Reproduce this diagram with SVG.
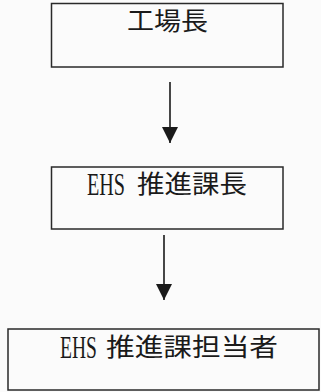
<svg xmlns="http://www.w3.org/2000/svg" width="321" height="392" viewBox="0 0 321 392">
<style>
.box{fill:none;stroke:#2a2a2a;stroke-width:1.5}
.jp{font-family:"Noto Sans CJK JP","Liberation Serif",sans-serif;font-size:25px;fill:#1a1a1a}
.en{font-family:"Liberation Serif",serif;font-size:31px;fill:#1a1a1a}
.conn{stroke:#1a1a1a;stroke-width:1.6;fill:none}
</style>
<defs>
<marker id="ah" markerWidth="16" markerHeight="16" viewBox="0 0 16 16" refX="16" refY="8" orient="auto" markerUnits="userSpaceOnUse">
<path d="M0,0 L16,8 L0,16 Z" fill="#1a1a1a"/>
</marker>
</defs>
<rect width="321" height="392" fill="#fbfbfb"/>
<g id="connectors">
<line class="conn" x1="170" y1="82" x2="170" y2="143" marker-end="url(#ah)"/>
<line class="conn" x1="164" y1="235" x2="164" y2="300" marker-end="url(#ah)"/>
</g>
<g id="node-kojocho">
<rect class="box" x="51.5" y="3.5" width="231.5" height="63.5"/>
<text class="jp" x="127" y="30" textLength="81" lengthAdjust="spacingAndGlyphs">工場長</text>
</g>
<g id="node-ehs-kacho">
<rect class="box" x="51.5" y="167" width="231.5" height="62"/>
<text class="en" transform="translate(87 195) scale(0.65 1)">EHS</text>
<text class="jp" x="137" y="193" textLength="110" lengthAdjust="spacingAndGlyphs">推進課長</text>
</g>
<g id="node-ehs-tantosha">
<rect class="box" x="8" y="329" width="311" height="61"/>
<text class="en" transform="translate(60 358) scale(0.63 1)">EHS</text>
<text class="jp" x="106" y="356" textLength="172" lengthAdjust="spacingAndGlyphs">推進課担当者</text>
</g>
</svg>
